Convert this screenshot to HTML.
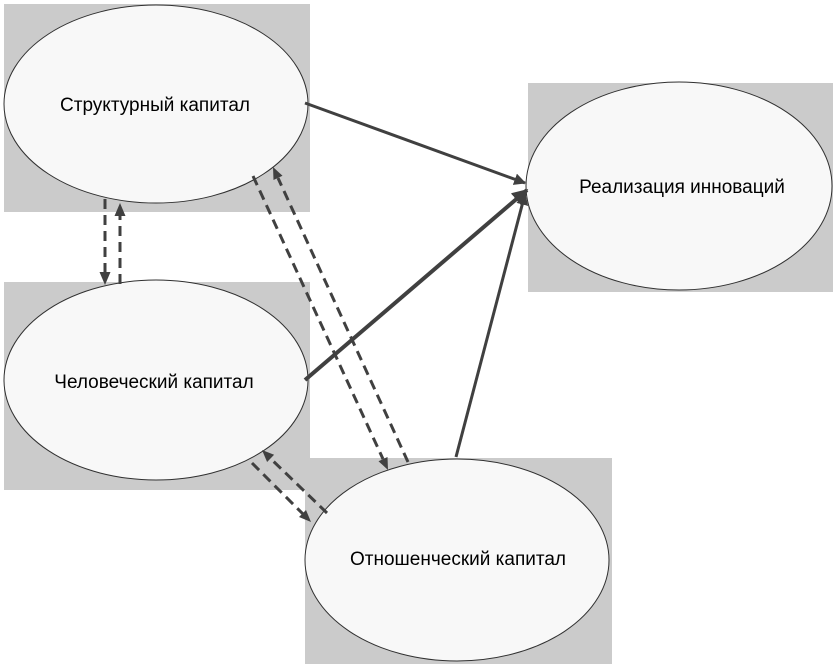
<!DOCTYPE html>
<html><head><meta charset="utf-8"><style>body{margin:0;background:#fff}svg{display:block}</style></head><body>
<svg width="833" height="664" xmlns="http://www.w3.org/2000/svg">
<defs>
<marker id="a" viewBox="0 0 10 10" refX="9" refY="5" markerWidth="4" markerHeight="4" orient="auto" markerUnits="strokeWidth"><path d="M0,0 L10,5 L0,10 z" fill="#404040"/></marker>
</defs>
<g fill="#cbcbcb">
<rect x="4" y="4" width="306" height="208"/>
<rect x="4" y="282" width="306" height="208"/>
<rect x="305" y="458" width="307" height="206"/>
<rect x="528" y="83" width="305" height="209"/>
</g>
<g fill="#f8f8f8" stroke="#303030" stroke-width="1">
<ellipse cx="156" cy="104" rx="152" ry="99"/>
<ellipse cx="156" cy="380" rx="152" ry="100"/>
<ellipse cx="457" cy="560" rx="152" ry="101"/>
<ellipse cx="679" cy="186" rx="153" ry="104"/>
</g>
<g stroke="#404040" fill="none" stroke-linecap="butt">
<line x1="305" y1="103" x2="525" y2="183" stroke-width="3" marker-end="url(#a)"/>
<line x1="305" y1="380" x2="527" y2="190" stroke-width="4" marker-end="url(#a)"/>
<line x1="456" y1="457" x2="525" y2="194" stroke-width="3" marker-end="url(#a)"/>
<g stroke-width="3" stroke-dasharray="10,6">
<line x1="105" y1="199" x2="105" y2="274"/>
<line x1="120" y1="284" x2="120" y2="214"/>
<line x1="253" y1="176" x2="383" y2="459"/>
<line x1="408" y1="462" x2="278" y2="178"/>
<line x1="327" y1="513" x2="270" y2="458"/>
<line x1="252" y1="463" x2="303" y2="514"/>
</g>
</g>
<g fill="#404040">
<polygon points="105,285 99.5,272 110.5,272"/>
<polygon points="120,203 114.5,216 125.5,216"/>
<polygon points="388,470 387.5,457 378.5,461.2"/>
<polygon points="273,167 282.5,175.8 273.5,180"/>
<polygon points="262,450 274.1,454.8 267.1,462"/>
<polygon points="311,522 306,510 299,517"/>
</g>
<g font-family="'Liberation Sans','DejaVu Sans',sans-serif" font-size="19" fill="#000" text-anchor="middle">
<text x="155" y="111">Структурный капитал</text>
<text x="154" y="388">Человеческий капитал</text>
<text x="458" y="565">Отношенческий капитал</text>
<text x="682" y="193">Реализация инноваций</text>
</g>
</svg>
</body></html>
